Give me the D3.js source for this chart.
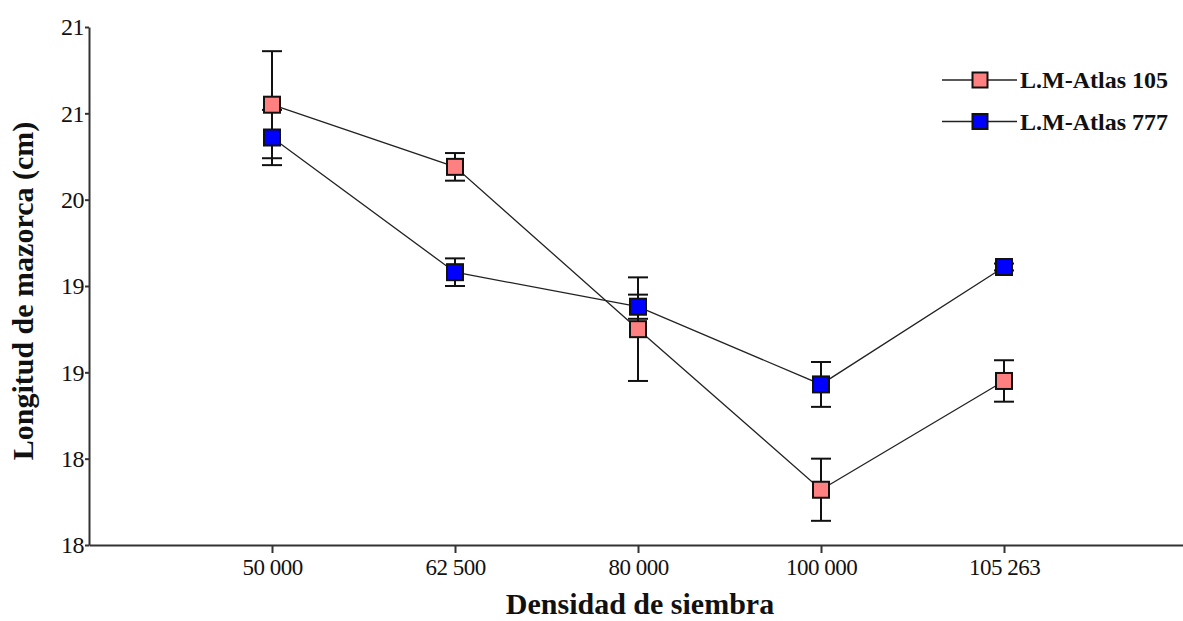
<!DOCTYPE html>
<html>
<head>
<meta charset="utf-8">
<script src="https://cdn.jsdelivr.net/npm/d3@7/dist/d3.min.js"></script>
<style>
  html, body { margin: 0; padding: 0; background: #fff; }
  svg { display: block; }
</style>
</head>
<body>
<svg id="chart" width="1183" height="621"></svg>
<script>
// ---- data ----
const categories = ["50 000", "62 500", "80 000", "100 000", "105 263"];
const seriesNames = ["L.M-Atlas 105", "L.M-Atlas 777"];
const atlas105 = [20.55, 20.19, 19.25, 18.32, 18.95];
const atlas105Err = [0.31, 0.08, 0.30, 0.18, 0.12];
const atlas777 = [20.36, 19.58, 19.38, 18.93, 19.61];
const atlas777Err = [0.16, 0.08, 0.07, 0.13, 0.02];
const yTickValues = [18, 18.5, 19, 19.5, 20, 20.5, 21];
const yTickLabels = ["18", "18", "19", "19", "20", "21", "21"];
const colors = ["#FF8080", "#0000FF"];

const series = [
  { name: seriesNames[0], values: atlas105, err: atlas105Err, color: colors[0] },
  { name: seriesNames[1], values: atlas777, err: atlas777Err, color: colors[1] }
];

const svg = d3.select("#chart");
const mLeft = 89, mTop = 27, mBottom = 545;

const x = d3.scalePoint().domain(categories).range([mLeft, 1187]).padding(1);
const y = d3.scaleLinear().domain([18, 21]).range([mBottom, mTop]);

const serif = "'Liberation Serif', 'Times New Roman', serif";

// axes
const xAxis = svg.append("g")
  .attr("transform", `translate(0,${mBottom})`)
  .call(d3.axisBottom(x).tickSizeInner(8).tickSizeOuter(0).tickPadding(6));
xAxis.select(".domain").attr("stroke", "#333").attr("stroke-width", 2);
xAxis.selectAll(".tick line").attr("stroke", "#333").attr("stroke-width", 2);
xAxis.selectAll(".tick text")
  .attr("font-family", serif).attr("font-size", 23).attr("fill", "#111")
  .attr("letter-spacing", -0.5);

const yAxis = svg.append("g")
  .attr("transform", `translate(${mLeft},0)`)
  .call(d3.axisLeft(y).tickValues(yTickValues)
    .tickFormat((d, i) => yTickLabels[i])
    .tickSizeInner(4).tickSizeOuter(0).tickPadding(1));
yAxis.select(".domain").attr("stroke", "#333").attr("stroke-width", 2);
yAxis.selectAll(".tick line").attr("stroke", "#333").attr("stroke-width", 2);
yAxis.selectAll(".tick text")
  .attr("font-family", serif).attr("font-size", 24).attr("fill", "#111")
  .attr("letter-spacing", -0.5);

// axis titles
svg.append("text")
  .attr("x", 640).attr("y", 614)
  .attr("text-anchor", "middle")
  .attr("font-family", serif).attr("font-weight", "bold").attr("font-size", 30)
  .attr("fill", "#111")
  .text("Densidad de siembra");

svg.append("text")
  .attr("transform", `translate(33,291) rotate(-90)`)
  .attr("text-anchor", "middle")
  .attr("font-family", serif).attr("font-weight", "bold").attr("font-size", 30)
  .attr("fill", "#111")
  .text("Longitud de mazorca (cm)");

// lines
const line = d3.line().x((d, i) => x(categories[i])).y(d => y(d));
series.forEach(s => {
  svg.append("path")
    .datum(s.values)
    .attr("d", line)
    .attr("fill", "none")
    .attr("stroke", "#222")
    .attr("stroke-width", 1.3);
});

// error bars
const capW = 10;
series.forEach(s => {
  const g = svg.append("g").attr("stroke", "#111").attr("stroke-width", 2);
  s.values.forEach((v, i) => {
    const cx = x(categories[i]);
    const y1 = y(v + s.err[i]), y2 = y(v - s.err[i]);
    g.append("line").attr("x1", cx).attr("x2", cx).attr("y1", y1).attr("y2", y2);
    g.append("line").attr("x1", cx - capW).attr("x2", cx + capW).attr("y1", y1).attr("y2", y1);
    g.append("line").attr("x1", cx - capW).attr("x2", cx + capW).attr("y1", y2).attr("y2", y2);
  });
});

// markers
const ms = 16;
series.forEach(s => {
  svg.append("g").selectAll("rect")
    .data(s.values)
    .join("rect")
    .attr("x", (d, i) => x(categories[i]) - ms / 2)
    .attr("y", d => y(d) - ms / 2)
    .attr("width", ms).attr("height", ms)
    .attr("fill", s.color)
    .attr("stroke", "#111").attr("stroke-width", 2);
});

// legend
const legend = svg.append("g");
series.forEach((s, i) => {
  const ly = 80 + i * 41.5;
  legend.append("line").attr("x1", 942).attr("x2", 1017).attr("y1", ly).attr("y2", ly)
    .attr("stroke", "#222").attr("stroke-width", 1.5);
  legend.append("rect").attr("x", 980 - 7.5).attr("y", ly - 7.5)
    .attr("width", 15).attr("height", 15)
    .attr("fill", s.color).attr("stroke", "#111").attr("stroke-width", 2);
  legend.append("text").attr("x", 1020).attr("y", ly + 8)
    .attr("font-family", serif).attr("font-weight", "bold").attr("font-size", 24)
    .attr("fill", "#111")
    .text(s.name);
});
</script>
</body>
</html>
